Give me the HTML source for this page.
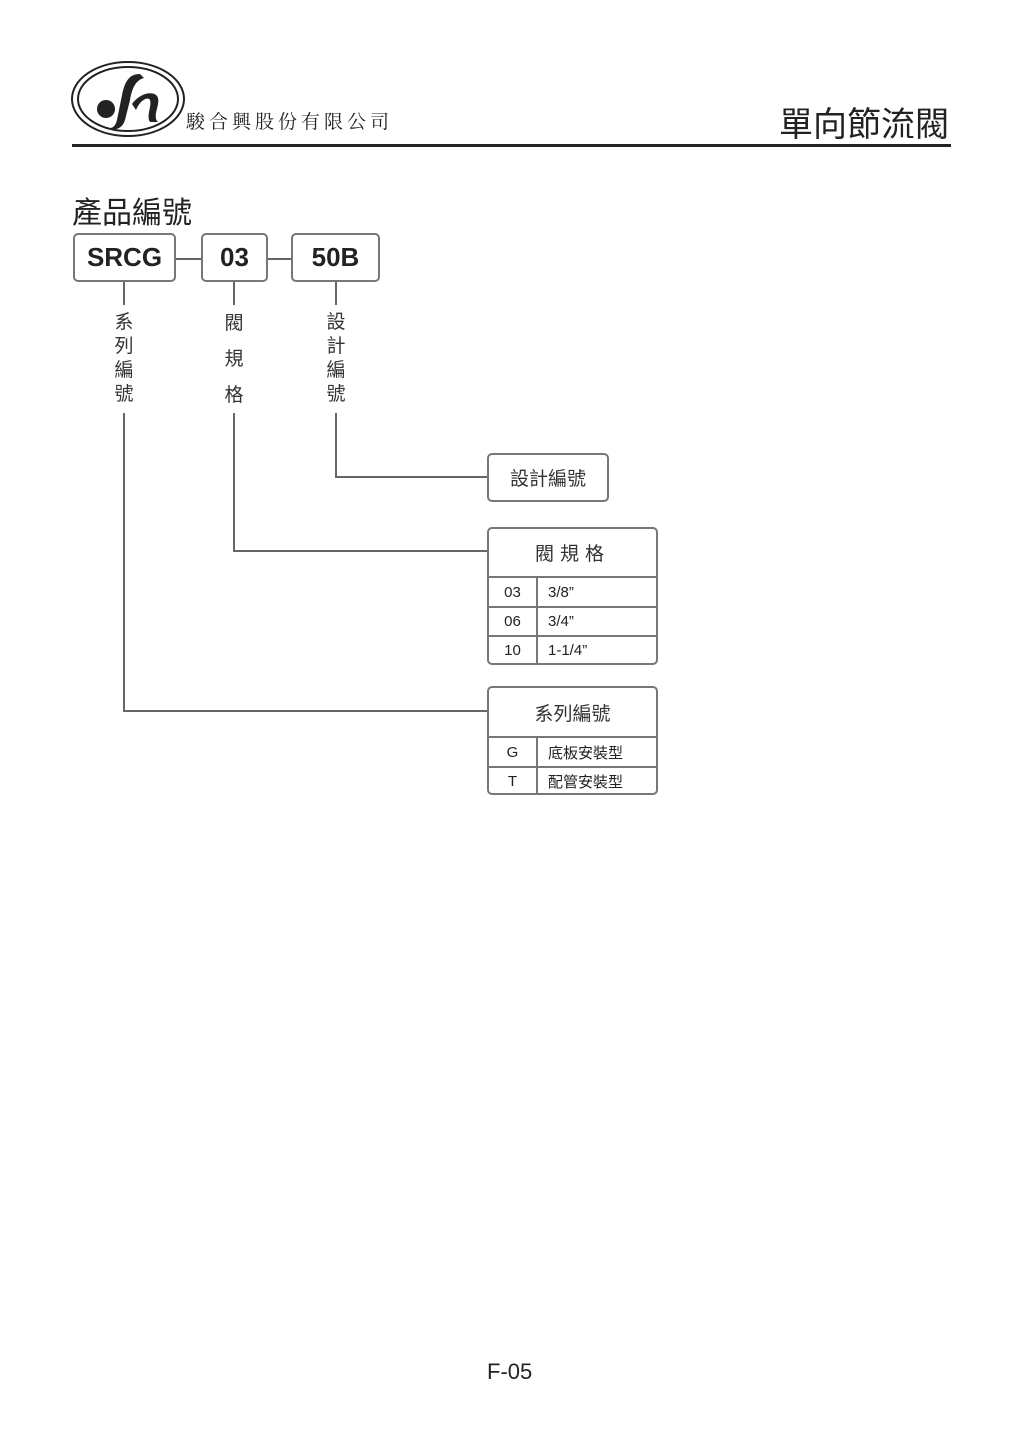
<!DOCTYPE html>
<html><head><meta charset="utf-8"><style>
body{margin:0;width:1024px;height:1447px;background:#fff;position:relative;font-family:"Liberation Sans","Noto Sans CJK TC",sans-serif;color:#222;overflow:hidden}
.a{position:absolute}
.box{position:absolute;border:2px solid #777;border-radius:5px;box-sizing:border-box;display:flex;align-items:center;justify-content:center;font-weight:bold;font-size:26px;color:#222}
.ln{position:absolute;background:#666}
.v{position:absolute;font-size:19px;width:24px;text-align:center;color:#333;line-height:24px}
.tb{position:absolute;border:2px solid #777;border-radius:5px;box-sizing:border-box;overflow:hidden}
.tb .h{box-sizing:border-box;border-bottom:2px solid #777;display:flex;align-items:center;justify-content:center;font-size:19px;color:#333}
.tb .r{box-sizing:border-box;display:flex;align-items:center;font-size:15px;color:#222}
.tb .r.t{border-top:2px solid #777}
.tb .c1{width:47px;height:100%;border-right:2px solid #777;display:flex;align-items:center;justify-content:center}
.tb .c2{padding-left:10px}
</style></head><body>
<svg class="a" style="left:70px;top:60px" width="120" height="80">
<ellipse cx="58" cy="39" rx="56" ry="37" fill="none" stroke="#222" stroke-width="2"/>
<ellipse cx="58" cy="39" rx="50" ry="32" fill="none" stroke="#222" stroke-width="2"/>
<circle cx="36" cy="49" r="9" fill="#222"/>
<path d="M70 14 C60 14 55 20 52 35 L47 60 C45 68 40 70 36 66 C42 72 52 70 55 60 L60 40 C62 28 66 20 74 18 Z" fill="#222"/>
<path d="M62 44 C70 32 86 30 88 38 C90 46 82 56 88 62 L80 62 C76 56 82 46 80 40 C78 36 70 40 66 50 Z" fill="#222"/>
</svg>
<div class="a" style="left:186px;top:107px;font-size:19px;font-family:'Liberation Serif','Noto Serif CJK SC',serif;letter-spacing:4px">駿合興股份有限公司</div>
<div class="a" style="left:779px;top:97px;font-size:34px;color:#222">單向節流閥</div>
<div class="ln" style="left:72px;top:144px;width:879px;height:3px;background:#222"></div>
<div class="a" style="left:72px;top:188px;font-size:30px;color:#222">產品編號</div>
<div class="box" style="left:73px;top:233px;width:103px;height:49px">SRCG</div>
<div class="box" style="left:201px;top:233px;width:67px;height:49px">03</div>
<div class="box" style="left:291px;top:233px;width:89px;height:49px">50B</div>
<div class="ln" style="left:176px;top:258px;width:25px;height:2px"></div>
<div class="ln" style="left:268px;top:258px;width:23px;height:2px"></div>
<div class="ln" style="left:123px;top:282px;width:2px;height:23px"></div>
<div class="ln" style="left:233px;top:282px;width:2px;height:23px"></div>
<div class="ln" style="left:335px;top:282px;width:2px;height:23px"></div>
<div class="v" style="left:112px;top:311px">系<br>列<br>編<br>號</div>
<div class="v" style="left:222px;top:306px;line-height:36px">閥<br>規<br>格</div>
<div class="v" style="left:324px;top:311px">設<br>計<br>編<br>號</div>
<div class="ln" style="left:123px;top:413px;width:2px;height:299px"></div>
<div class="ln" style="left:123px;top:710px;width:364px;height:2px"></div>
<div class="ln" style="left:233px;top:413px;width:2px;height:139px"></div>
<div class="ln" style="left:233px;top:550px;width:254px;height:2px"></div>
<div class="ln" style="left:335px;top:413px;width:2px;height:65px"></div>
<div class="ln" style="left:335px;top:476px;width:152px;height:2px"></div>
<div class="box" style="left:487px;top:453px;width:122px;height:49px;font-weight:normal;font-size:19px;color:#333">設計編號</div>
<div class="tb" style="left:487px;top:527px;width:171px;height:138px">
<div class="h" style="height:49px;letter-spacing:6px">閥規格</div>
<div class="r" style="height:28px"><div class="c1">03</div><div class="c2">3/8”</div></div>
<div class="r t" style="height:29px"><div class="c1">06</div><div class="c2">3/4”</div></div>
<div class="r t" style="height:28px"><div class="c1">10</div><div class="c2">1-1/4”</div></div>
</div>
<div class="tb" style="left:487px;top:686px;width:171px;height:109px">
<div class="h" style="height:50px">系列編號</div>
<div class="r" style="height:28px"><div class="c1">G</div><div class="c2">底板安裝型</div></div>
<div class="r t" style="height:29px"><div class="c1">T</div><div class="c2">配管安裝型</div></div>
</div>
<div class="a" style="left:487px;top:1359px;font-size:22px">F-05</div>
</body></html>
